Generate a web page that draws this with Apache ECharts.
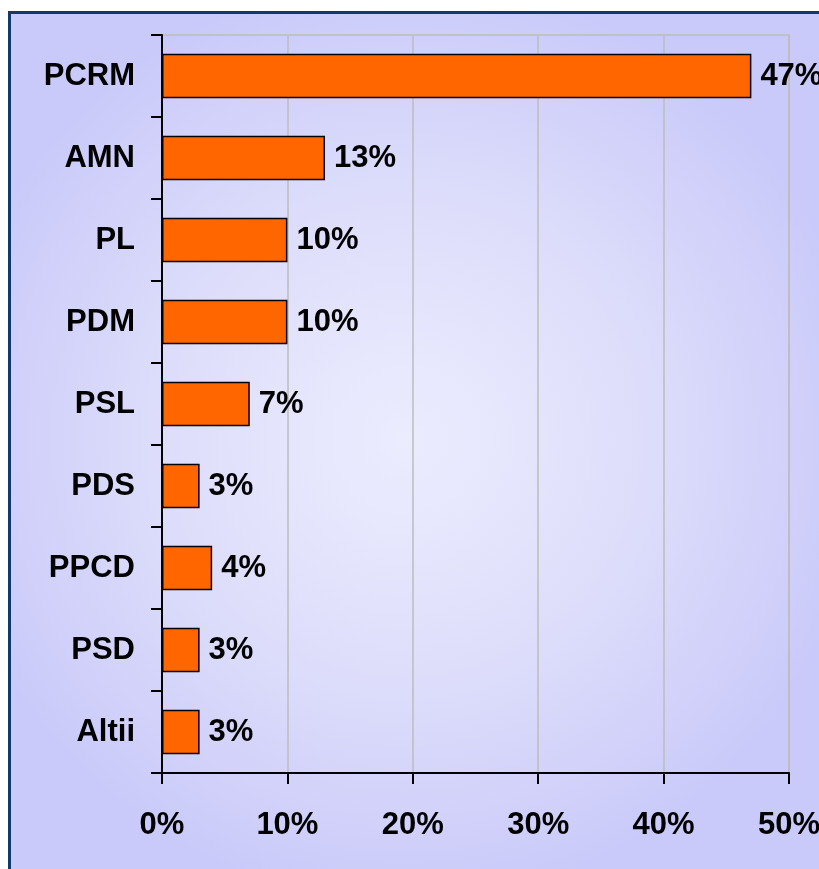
<!DOCTYPE html>
<html><head><meta charset="utf-8">
<script src="https://cdn.jsdelivr.net/npm/echarts@6/dist/echarts.min.js"></script>
<style>html,body{margin:0;padding:0;background:#fff}#c{width:819px;height:869px}</style>
</head><body><div id="c"></div>
<script>
const categories = ['PCRM','AMN','PL','PDM','PSL','PDS','PPCD','PSD','Altii'];
const values = [47,13,10,10,7,3,4,3,3];
const xTicks = [0,10,20,30,40,50];

const chart = echarts.init(document.getElementById('c'));
chart.setOption({
  backgroundColor:'#ffffff',
  animation:false,
  graphic:[{
    type:'rect', z:-10, silent:true,
    shape:{x:9.5,y:12.5,width:840,height:890},
    style:{
      fill:new echarts.graphic.RadialGradient(0.47,0.48,0.55,[
        {offset:0,color:'#ECECFF'},{offset:0.5,color:'#DEDEFB'},{offset:1,color:'#CACAFA'}]),
      stroke:'#0F3A6E', lineWidth:3
    }
  }],
  grid:{left:162,right:30,top:35,bottom:96,outerBoundsMode:'none',containLabel:false,show:true,borderColor:'#BDBDBD',borderWidth:1.5,backgroundColor:'transparent'},
  xAxis:{
    type:'value', min:0, max:50, interval:10,
    axisLine:{show:true,lineStyle:{color:'#000',width:2}},
    axisTick:{show:true,length:11,lineStyle:{color:'#000',width:2}},
    splitLine:{show:true,lineStyle:{color:'#BDBDBD',width:1.5}},
    axisLabel:{margin:37,formatter:v=>xTicks.includes(v)?v+'%':'',fontFamily:'Liberation Sans Narrow, Liberation Sans, Arial',fontWeight:'bold',fontSize:31,color:'#000'}
  },
  yAxis:{
    type:'category', data:categories, inverse:true,
    axisLine:{show:true,lineStyle:{color:'#000',width:2}},
    axisTick:{show:true,length:11,lineStyle:{color:'#000',width:2}},
    axisLabel:{margin:27,fontFamily:'Liberation Sans, Arial',fontWeight:'bold',fontSize:31,color:'#000'}
  },
  series:[{
    type:'bar', data:values, barWidth:'54%',
    itemStyle:{color:'#FF6600',borderColor:'#000',borderWidth:1.5},
    label:{show:true,position:'right',distance:9,formatter:'{c}%',fontFamily:'Liberation Sans, Arial',fontWeight:'bold',fontSize:31,color:'#000'}
  }]
});
</script></body></html>
